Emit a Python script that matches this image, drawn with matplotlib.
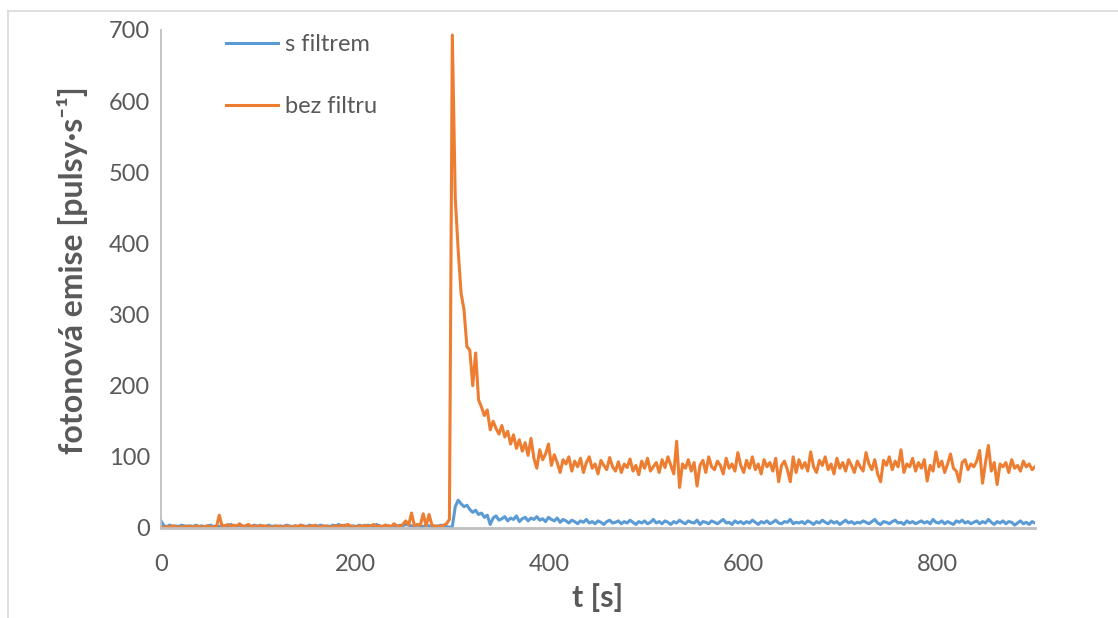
import numpy as np
import matplotlib
matplotlib.use("Agg")
import matplotlib.pyplot as plt
from matplotlib.lines import Line2D

plt.rcParams['font.family'] = ['Lato', 'DejaVu Sans']

# time axis, one reading every 3 s
t = np.arange(0, 901, 3)

s_filtrem = [
    10, 3, 2, 4, 2, 3, 2, 4, 3, 2,
    3, 2, 4, 2, 3, 2, 3, 4, 2, 3,
    2, 4, 3, 2, 5, 3, 2, 4, 3, 2,
    3, 2, 4, 3, 2, 3, 2, 4, 2, 3,
    2, 3, 2, 4, 3, 2, 3, 2, 4, 3,
    2, 4, 3, 2, 3, 4, 2, 3, 2, 4,
    3, 5, 2, 4, 3, 2, 3, 2, 4, 3,
    2, 4, 3, 2, 5, 3, 2, 4, 3, 2,
    3, 2, 4, 3, 5, 4, 3, 2, 4, 3,
    2, 4, 3, 2, 3, 2, 4, 3, 2, 1,
    2, 30, 39, 34, 30, 32, 26, 22, 25, 19,
    21, 15, 18, 5, 14, 17, 11, 13, 16, 10,
    14, 12, 17, 9, 13, 15, 10, 14, 12, 16,
    11, 13, 9, 15, 12, 10, 14, 8, 12, 10,
    7, 11, 9, 6, 10, 8, 12, 7, 9, 6,
    10, 8, 5, 9, 11, 7, 8, 10, 6, 9,
    7, 11, 8, 5, 9, 7, 10, 6, 8, 12,
    7, 9, 6, 10, 8, 5, 9, 7, 11, 8,
    6, 10, 8, 7, 11, 5, 9, 8, 6, 10,
    8, 6, 9, 12, 7, 8, 5, 10, 7, 9,
    6, 9, 7, 11, 8, 5, 9, 7, 10, 6,
    8, 11, 7, 6, 9, 8, 12, 6, 8, 7,
    9, 6, 10, 8, 5, 9, 7, 11, 8, 6,
    10, 7, 9, 5, 8, 11, 7, 9, 6, 8,
    7, 10, 8, 6, 9, 12, 7, 5, 9, 8,
    6, 9, 11, 7, 8, 5, 10, 7, 9, 6,
    8, 10, 7, 9, 6, 12, 8, 7, 10, 6,
    9, 7, 5, 10, 8, 11, 7, 9, 6, 8,
    10, 6, 9, 7, 12, 8, 5, 9, 7, 10,
    6, 9, 8, 4, 7, 10, 6, 8, 5, 9,
    7,
]

bez_filtru = [
    2, 1, 2, 1, 3, 2, 1, 2, 1, 3,
    2, 1, 3, 2, 1, 2, 3, 1, 2, 1,
    18, 2, 3, 5, 2, 4, 3, 6, 2, 3,
    5, 2, 3, 1, 4, 2, 3, 2, 1, 2,
    3, 1, 2, 3, 2, 1, 3, 2, 4, 2,
    1, 3, 2, 4, 1, 2, 3, 2, 1, 2,
    3, 2, 4, 2, 5, 3, 2, 1, 3, 2,
    4, 2, 3, 5, 2, 3, 2, 4, 3, 2,
    6, 3, 2, 5, 10, 4, 21, 3, 5, 4,
    20, 3, 19, 4, 2, 3, 2, 4, 6, 12,
    693, 464, 391, 330, 307, 255, 250, 200, 246, 180,
    170, 158, 166, 138, 150, 140, 132, 144, 128, 136,
    118, 131, 112, 124, 108, 120, 102, 126, 98, 84,
    110, 96, 104, 118, 88, 103, 92, 78, 96, 90,
    100, 80, 94, 86, 98, 78, 92, 100, 84, 90,
    76, 95, 88, 82, 99, 86, 80, 93, 78, 90,
    85, 97, 80, 88, 75, 94, 84, 98, 80, 86,
    92, 78, 96, 85, 100, 88, 76, 122, 57, 90,
    84, 96, 80, 92, 59, 88, 95, 78, 100, 86,
    82, 94, 88, 76, 98, 84, 90, 80, 106, 88,
    78, 95, 84, 100, 82, 90, 76, 96, 86, 92,
    80, 98, 65, 88, 94, 82, 65, 100, 78, 96,
    84, 92, 80, 107, 86, 78, 95, 88, 100, 82,
    90, 76, 98, 84, 92, 80, 96, 88, 78, 94,
    86, 80, 106, 90, 82, 96, 76, 65, 95, 88,
    100, 82, 94, 86, 110, 78, 90, 86, 98, 80,
    92, 84, 96, 66, 88, 80, 107, 86, 94, 78,
    90, 104, 84, 80, 65, 92, 96, 82, 90, 86,
    94, 109, 63, 92, 116, 80, 92, 61, 90, 86,
    92, 78, 96, 84, 88, 80, 94, 86, 90, 82,
    86,
]

x_ticks = [0, 200, 400, 600, 800]
y_ticks = [0, 100, 200, 300, 400, 500, 600, 700]

grey = '#595959'

fig = plt.figure(figsize=(11.18, 6.18), dpi=100)
ax = fig.add_axes([161 / 1118, 90 / 618, 874 / 1118, 498 / 618])

ax.plot(t, s_filtrem, color='#5B9BD5', lw=2.2, label='s filtrem')
ax.plot(t, bez_filtru, color='#ED7D31', lw=2.2, label='bez filtru')

ax.set_xlim(0, 900)
ax.set_ylim(0, 700)
ax.set_xticks(x_ticks)
ax.set_yticks(y_ticks)
ax.tick_params(length=0, labelsize=17, labelcolor=grey)
ax.tick_params(axis='x', pad=19)
ax.tick_params(axis='y', pad=8)

for side in ['top', 'right']:
    ax.spines[side].set_visible(False)
ax.spines['left'].set_color('#bfbfbf')
ax.spines['left'].set_linewidth(1.3)
ax.spines['bottom'].set_color('#bfbfbf')
ax.spines['bottom'].set_linewidth(2)

fig.text(73 / 1118, 1 - 270 / 618, 'fotonová emise [pulsy·s⁻¹]', rotation=90,
         ha='center', va='center', fontsize=23, fontweight='bold', color=grey)
fig.text(598 / 1118, 1 - 598 / 618, 't [s]', ha='center', va='center',
         fontsize=22, fontweight='bold', color=grey)

ax.legend(loc='upper left', bbox_to_anchor=(0.05, 1.035), frameon=False,
          fontsize=17, handlelength=2.2, handletextpad=0.3, labelspacing=1.75,
          labelcolor=grey)

# chart area border (cropped at right and bottom)
fig.add_artist(Line2D([8 / 1118, 1], [1 - 11 / 618, 1 - 11 / 618],
                      transform=fig.transFigure, color='#d9d9d9', lw=1.2))
fig.add_artist(Line2D([8 / 1118, 8 / 1118], [0, 1 - 11 / 618],
                      transform=fig.transFigure, color='#d9d9d9', lw=1.2))

fig.savefig('out.png', dpi=100)
